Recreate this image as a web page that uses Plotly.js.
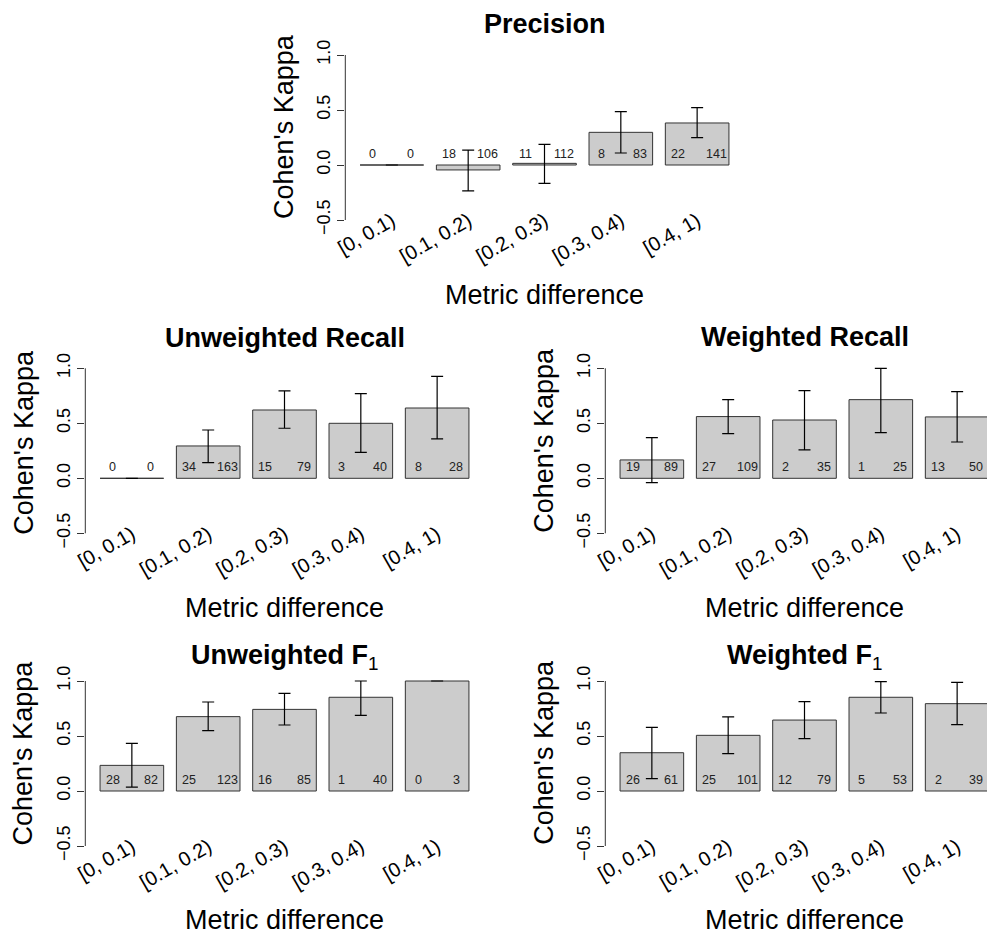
<!DOCTYPE html>
<html>
<head>
<meta charset="utf-8">
<script src="https://cdn.plot.ly/plotly-3.0.1.min.js"></script>
<style>
html,body{margin:0;padding:0;overflow:hidden;background:#fff;width:987px;height:935px;}
#chart{width:1010px;height:935px;}
</style>
</head>
<body>
<div id="chart"></div>
<script>
// ---------- data ----------
const categories = ["[0, 0.1)", "[0.1, 0.2)", "[0.2, 0.3)", "[0.3, 0.4)", "[0.4, 1)"];

const precisionKappa = [0, -0.045, 0.015, 0.297, 0.382];
const precisionLow   = [null, -0.236, -0.167, 0.109, 0.248];
const precisionHigh  = [null, 0.136, 0.188, 0.485, 0.521];
const precisionN1    = [0, 18, 11, 8, 22];
const precisionN2    = [0, 106, 112, 83, 141];

const uRecallKappa = [0, 0.294, 0.621, 0.500, 0.639];
const uRecallLow   = [null, 0.142, 0.455, 0.236, 0.358];
const uRecallHigh  = [null, 0.439, 0.794, 0.770, 0.927];
const uRecallN1    = [0, 34, 15, 3, 8];
const uRecallN2    = [0, 163, 79, 40, 28];

const wRecallKappa = [0.167, 0.561, 0.530, 0.715, 0.558];
const wRecallLow   = [-0.039, 0.406, 0.258, 0.415, 0.330];
const wRecallHigh  = [0.370, 0.715, 0.797, 1.000, 0.788];
const wRecallN1    = [19, 27, 2, 1, 13];
const wRecallN2    = [89, 109, 35, 25, 50];

const uF1Kappa = [0.233, 0.676, 0.742, 0.852, 1.000];
const uF1Low   = [0.036, 0.548, 0.600, 0.688, 1.000];
const uF1High  = [0.433, 0.809, 0.888, 1.000, 1.000];
const uF1N1    = [28, 25, 16, 1, 0];
const uF1N2    = [82, 123, 85, 40, 3];

const wF1Kappa = [0.348, 0.506, 0.645, 0.852, 0.794];
const wF1Low   = [0.112, 0.339, 0.476, 0.709, 0.603];
const wF1High  = [0.579, 0.673, 0.812, 0.994, 0.988];
const wF1N1    = [26, 25, 12, 5, 2];
const wF1N2    = [61, 101, 79, 53, 39];

const yTickVals = [-0.5, 0, 0.5, 1];
const titles = ["<b>Precision</b>", "<b>Unweighted Recall</b>", "<b>Weighted Recall</b>",
                "<b>Unweighted F</b><sub>1</sub>", "<b>Weighted F</b><sub>1</sub>"];
const xTitle = "Metric difference";
const yTitle = "Cohen's Kappa";

// ---------- layout geometry (pixels) ----------
const W = 1010, H = 935;
const FONT = "Liberation Sans, Arial, Helvetica, sans-serif";
const panelW = 398.4;
const labelLift = 22;
const panels = [
  {k: precisionKappa, lo: precisionLow, hi: precisionHigh, n1: precisionN1, n2: precisionN2,
   left: 345.3, top: 48.4, bottom: 226.6, titleY: 24.2, xlabY: 295.3, ylabX: 283.3, ylabY: 126.7},
  {k: uRecallKappa, lo: uRecallLow, hi: uRecallHigh, n1: uRecallN1, n2: uRecallN2,
   left: 85.3, top: 361.7, bottom: 539.9, titleY: 337.5, xlabY: 608.3, ylabX: 23.3, ylabY: 442.5},
  {k: wRecallKappa, lo: wRecallLow, hi: wRecallHigh, n1: wRecallN1, n2: wRecallN2,
   left: 605.3, top: 361.7, bottom: 539.9, titleY: 336.5, xlabY: 608.3, ylabX: 543.3, ylabY: 440.5},
  {k: uF1Kappa, lo: uF1Low, hi: uF1High, n1: uF1N1, n2: uF1N2,
   left: 85.3, top: 674.4, bottom: 852.6, titleY: 657, xlabY: 920, ylabX: 23.3, ylabY: 753.3},
  {k: wF1Kappa, lo: wF1Low, hi: wF1High, n1: wF1N1, n2: wF1N2,
   left: 605.3, top: 674.4, bottom: 852.6, titleY: 657, xlabY: 920, ylabX: 543.3, ylabY: 752.5}
];

const traces = [];
const layout = {
  width: W, height: H,
  margin: {l: 0, r: 0, t: 0, b: 0},
  paper_bgcolor: "#fff", plot_bgcolor: "rgba(0,0,0,0)",
  showlegend: false,
  bargap: 1 - 1 / 1.2,
  font: {family: FONT, color: "#000"},
  annotations: [], shapes: []
};

panels.forEach((p, i) => {
  const n = i + 1;
  const xa = "x" + (n === 1 ? "" : n), ya = "y" + (n === 1 ? "" : n);
  const xk = "xaxis" + (n === 1 ? "" : n), yk = "yaxis" + (n === 1 ? "" : n);
  const plus = p.k.map((v, j) => p.hi[j] === null ? null : p.hi[j] - v);
  const minus = p.k.map((v, j) => p.lo[j] === null ? null : v - p.lo[j]);
  traces.push({
    type: "bar", x: categories, y: p.k, xaxis: xa, yaxis: ya,
    marker: {color: "#cccccc", line: {color: "#333333", width: 1}},
    error_y: {type: "data", symmetric: false, array: plus, arrayminus: minus,
              color: "#000", thickness: 1.2, width: 6},
    hoverinfo: "skip"
  });
  const yDom = [1 - p.bottom / H, 1 - p.top / H];
  layout[xk] = {
    domain: [p.left / W, (p.left + panelW) / W],
    range: [-0.61, 4.61], type: "category",
    anchor: "free", position: 1 - (p.bottom - labelLift) / H,
    showline: false, showgrid: false, zeroline: false, ticks: "",
    tickangle: -30, tickfont: {size: 20, family: FONT, color: "#000"},
    fixedrange: true
  };
  layout[yk] = {
    domain: yDom, anchor: xa,
    range: [-0.56, 1.06],
    showline: false, showgrid: false, zeroline: false,
    ticks: "outside", ticklen: 7, tickwidth: 1, tickcolor: "#333",
    tickvals: yTickVals, tickformat: ".1f", tickangle: -90,
    tickfont: {size: 18, family: FONT, color: "#000"},
    fixedrange: true
  };
  layout.shapes.push({type: "line", xref: xa + " domain", yref: ya,
    x0: 0, x1: 0, y0: -0.5, y1: 1, line: {color: "#333", width: 1}});
  // count labels
  p.k.forEach((v, j) => {
    [[p.n1[j], -0.25], [p.n2[j], 0.25]].forEach(([t, dx]) => {
      layout.annotations.push({xref: xa, yref: ya, x: j + dx, y: 0.1, text: String(t),
        showarrow: false, xanchor: "center", yanchor: "middle",
        font: {size: 12.5, family: FONT, color: "#222"}});
    });
  });
  const cx = (p.left + panelW / 2) / W;
  layout.annotations.push({xref: "paper", yref: "paper", x: cx, y: 1 - p.titleY / H,
    text: titles[i], showarrow: false, xanchor: "center", yanchor: "middle",
    font: {size: 27, family: FONT, color: "#000"}});
  layout.annotations.push({xref: "paper", yref: "paper", x: cx, y: 1 - p.xlabY / H,
    text: xTitle, showarrow: false, xanchor: "center", yanchor: "middle",
    font: {size: 27, family: FONT, color: "#000"}});
  layout.annotations.push({xref: "paper", yref: "paper", x: p.ylabX / W, y: 1 - p.ylabY / H,
    text: yTitle, showarrow: false, xanchor: "center", yanchor: "middle", textangle: -90,
    font: {size: 27, family: FONT, color: "#000"}});
});

Plotly.newPlot("chart", traces, layout, {staticPlot: true, displayModeBar: false});
</script>
</body>
</html>
